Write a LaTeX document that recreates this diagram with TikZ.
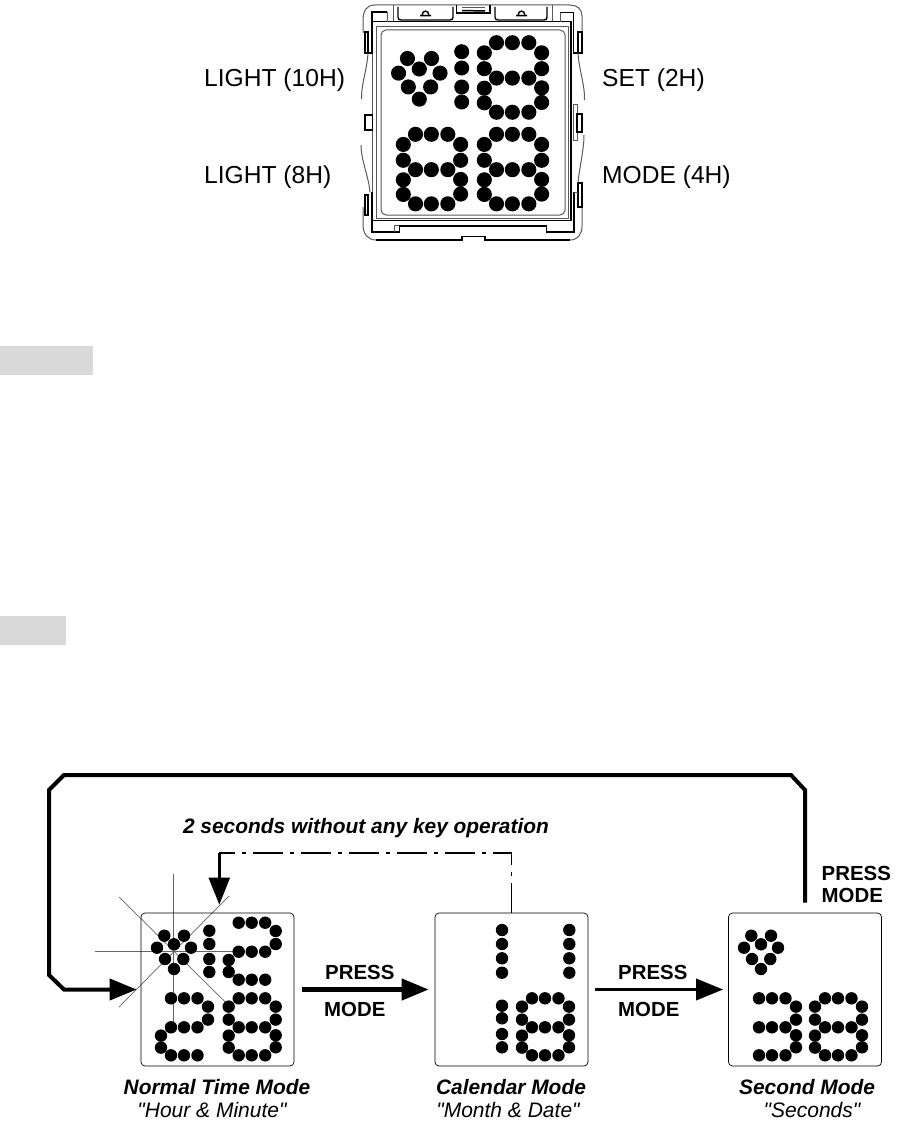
\documentclass[tikz,border=0pt]{standalone}
\usepackage{fontspec}
\setmainfont{Liberation Sans}
\newfontfamily\plainfont{Liberation Sans}
\usepackage{xcolor}
\usetikzlibrary{arrows.meta}

\definecolor{maskgray}{HTML}{D9D9D9}

\tikzset{
  leddot/.style={fill=black},
  panelbox/.style={draw=black,line width=0.7pt,rounded corners=4pt,minimum width=153pt,minimum height=153pt,inner sep=0pt},
  rayline/.style={draw=black!60,line width=0.7pt},
  devblack/.style={draw=black,line width=1.4pt},
  devgray/.style={draw=black!65,line width=1pt},
  looparrow/.style={line width=4pt,-{Triangle[length=27pt,width=21pt]}},
  pressarrow/.style={line width=4.4pt,-{Triangle[length=27pt,width=21pt]}},
  dashline/.style={line width=1.7pt,dash pattern=on 30pt off 7pt on 4pt off 7pt},
  backarrow/.style={line width=2.4pt,-{Triangle[length=27pt,width=21pt]}},
  devlabel/.style={anchor=west,inner sep=0pt,font=\fontsize{24.6}{28}\selectfont},
  presslabel/.style={anchor=west,inner sep=0pt,font=\fontsize{20.4}{24}\selectfont\bfseries},
  modetitle/.style={anchor=center,inner sep=0pt,font=\fontsize{20.9}{24}\selectfont\bfseries\itshape},
  modesub/.style={anchor=center,inner sep=0pt,font=\plainfont\fontsize{21}{24}\selectfont\itshape}
}

% offsets of the dots in each segment
\def\sega{10/0,23/0,36.5/0}
\def\segb{47/8.3,47/21.3}
\def\segc{47/37,47/49}
\def\segd{10/57,23/57,36.5/57}
\def\sege{0/37.3,0/49.3}
\def\segf{0/8.3,0/21.3}
\def\segg{10/29,23/29,36.5/29}
\newcommand{\leddigit}[4][1]{%
  \foreach \s in {#4} {%
    \edef\slist{\csname seg\s\endcsname}%
    \foreach \dx/\dy in \slist
      \fill[leddot] ({#2+#1*\dx},{#3+#1*\dy}) circle ({#1*6.2});
  }}
\newcommand{\ledheart}[3][1]{%
  \foreach \dx/\dy in {-9.7/-8.6,10/-8.6,-17/3.4,0/0,17/3.4,-9/14.7,9.3/14.7,0/24.7}
    \fill[leddot] ({#2+#1*\dx},{#3+#1*\dy}) circle ({#1*6.2});
}

\begin{document}
\begin{tikzpicture}[x=1pt,y=-1pt]
\useasboundingbox (0,0) rectangle (897,1129);
\fill[white] (0,0) rectangle (897,1129);

% watch outline
\draw[devgray] (363,33) -- (363,21) .. controls (363,11) and (366,5) .. (375,5) -- (570,5) .. controls (577,5) and (582,9) .. (582,16) -- (582,32);
\draw[devgray] (363,207) -- (363,225) .. controls (363,234) and (368,240) .. (376,240);
\draw[devblack] (376,240) -- (462,240) -- (462,236.7) -- (485,236.7) -- (485,240) -- (570,240);
\draw[devgray] (570,240) .. controls (578,240) and (582,234) .. (582,226) -- (582,207);
% top tabs
\draw[devblack] (398,7) -- (398,17) .. controls (398,19) and (399,20) .. (401,20) -- (450,20) .. controls (452,20) and (453,19) .. (453,17) -- (453,7);
\draw[devblack] (495,7) -- (495,17) .. controls (495,19) and (496,20) .. (498,20) -- (544,20) .. controls (546,20) and (547,19) .. (547,17) -- (547,7);
\draw[devgray] (393,5) -- (393,21.7) (552,5) -- (552,21.7);
\draw[devblack] (420,15.7) -- (431,15.7) (422,15.7) .. controls (422,9.5) and (429,9.5) .. (429,15.7);
\draw[devblack] (516,15.7) -- (527,15.7) (518,15.7) .. controls (518,9.5) and (525,9.5) .. (525,15.7);
\draw[devblack] (456.7,5) -- (456.7,13) -- (490,13) -- (490,5);
\draw[devgray] (462,8) -- (485,8);
\draw[line width=1.5pt] (462,10.5) -- (485,11);
% frames
\draw[devblack] (372.5,21.7) -- (571,21.7) -- (571,220.7) -- (372.5,220.7);
\draw[devgray] (372.5,53) -- (372.5,192);
\draw[devgray] (376.5,26.7) rectangle (568,218);
\draw[devgray,rounded corners=5pt] (381,30) rectangle (565,215);
% corner blocks
\draw[devblack] (387,12) -- (372,12) -- (372,53) -- (365,53) -- (365,32) -- (368,32) -- (368,53);
\draw[devgray] (387,12) -- (387,21.7);
\draw[devblack] (560,12.7) -- (573.5,12.7) -- (573.5,53) -- (582,53) -- (582,32) -- (578,32) -- (578,53);
\draw[devgray] (560,12.7) -- (560,21.7);
\draw[devblack] (372,192) -- (372,232) -- (399.3,232) -- (399.3,226) -- (546.7,226) -- (546.7,232) -- (574,232) -- (574,192);
\draw[devgray] (394.3,232) -- (394.3,225) -- (399.3,225);
% side clips and springs
\draw[devblack] (365,115) rectangle (372.5,130);
\draw[devblack] (365,195) rectangle (368,215);
\draw[devgray] (368,53) .. controls (367,70) and (361,85) .. (361.5,99);
\draw[devgray] (361,145) .. controls (361,160) and (369,178) .. (370,192);
\draw[devgray] (573,105) rectangle (577,140);
\draw[devblack] (577,114) rectangle (582,132);
\draw[devblack] (578,183) rectangle (582,207);
\draw[devgray] (578,53) .. controls (579,70) and (585,85) .. (584.5,100);
\draw[devgray] (584,135) .. controls (584,150) and (579,170) .. (578,183);
\draw[devgray] (574,192) -- (578,192);

% watch display
\ledheart[1.22]{419.3}{69}
\foreach \y in {51.7,68,87,102} \fill[leddot] (461.7,\y) circle (7.5);
\leddigit[1.22]{484.3}{42.7}{a,b,c,d,e,f,g}
\leddigit[1.22]{403.3}{134.3}{a,b,c,d,e,f,g}
\leddigit[1.22]{484.3}{134.3}{a,b,c,d,e,f,g}

\node[devlabel] (light10) at (204,80) {LIGHT (10H)};
\node[devlabel] (light8) at (204,177) {LIGHT (8H)};
\node[devlabel] (set2) at (602,80) {SET (2H)};
\node[devlabel] (mode4) at (602,177) {MODE (4H)};

% grey bars
\fill[maskgray] (0,346) rectangle (93,375);
\fill[maskgray] (0,616) rectangle (66,645);

% flash rays
\draw[rayline] (173.7,874) -- (173.7,1021.7);
\draw[rayline] (95,951.7) -- (233,951.7);
\draw[rayline] (119,897) -- (225,1001.7);
\draw[rayline] (229,896) -- (119,1007);

% mode panels
\node[panelbox] (normalbox) at (217.5,989.5) {};
\node[panelbox] (calendarbox) at (511.5,989.5) {};
\node[panelbox] (secondbox) at (805,989.5) {};

% normal time display
\ledheart{174}{944.3}
\foreach \y in {930.7,944,959,972} \fill[leddot] (209.3,\y) circle (6.2);
\leddigit{228.7}{922.7}{a,b,g,e,d}
\leddigit{161}{998.3}{a,b,g,e,d}
\leddigit{228.7}{998.3}{a,b,c,d,e,f,g}
% calendar display
\foreach \x in {502,569.3} \foreach \y in {930,944,958.3,972.7} \fill[leddot] (\x,\y) circle (6.2);
\foreach \y in {1005.7,1018.3,1034,1047.3} \fill[leddot] (502,\y) circle (6.2);
\leddigit{522}{998.3}{a,b,c,d,e,f,g}
% second display
\ledheart{761}{944.3}
\leddigit{749}{998.3}{a,b,c,d,g}
\leddigit{815}{998.3}{a,b,c,d,e,f,g}

% connectors
\coordinate (looptopr) at (791,775);
\coordinate (looptopl) at (64,775);
\draw[looparrow,shorten >=4pt] ([yshift=10pt]secondbox.north) -- (805,790) -- (looptopr) -- (looptopl) -- (49,790) -- (49,975) -- (64,989.5) -- (normalbox.west);
\draw[pressarrow,shorten <=8pt,shorten >=6pt] (normalbox.east) -- (calendarbox.west);
\draw[pressarrow,shorten <=7pt,shorten >=5pt,line width=3.6pt] (calendarbox.east) -- (secondbox.west);
\coordinate (backcornerr) at (511.5,852.7);
\coordinate (backcornerl) at (219.3,852.7);
\draw[dashline] (calendarbox.north) -- (backcornerr) -- (backcornerl);
\draw[backarrow,shorten >=8pt] (backcornerl) -- (backcornerl |- normalbox.north);

% labels
\node[modetitle] (backtext) at (366,828) {2 seconds without any key operation};
\node[presslabel] (press1) at (325,972) {PRESS};
\node[presslabel] (mode1) at (324,1009) {MODE};
\node[presslabel] (press2) at (618,972) {PRESS};
\node[presslabel] (mode2) at (618,1009) {MODE};
\node[presslabel] (press3) at (821.5,873) {PRESS};
\node[presslabel] (mode3) at (821.5,895) {MODE};
\node[modetitle] (normaltitle) at (217,1087) {Normal Time Mode};
\node[modesub] (normalsub) at (212,1110) {"Hour \& Minute"};
\node[modetitle] (calendartitle) at (511,1087) {Calendar Mode};
\node[modesub] (calendarsub) at (508,1110) {"Month \& Date"};
\node[modetitle] (secondtitle) at (807,1087) {Second Mode};
\node[modesub] (secondsub) at (812,1110) {"Seconds"};
\end{tikzpicture}
\end{document}
